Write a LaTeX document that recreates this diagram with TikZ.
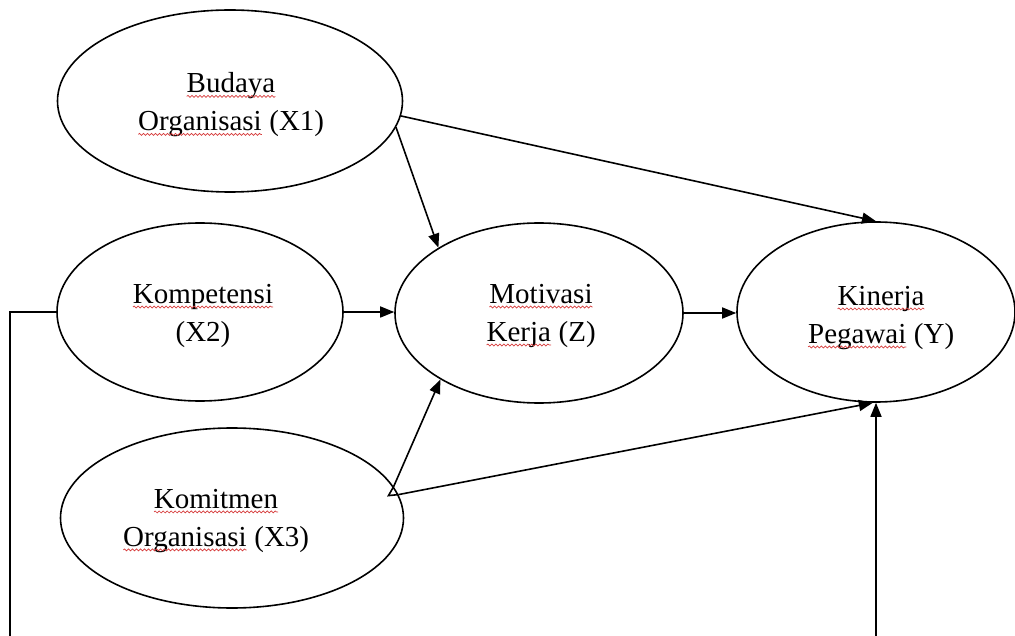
\documentclass[tikz,border=0pt]{standalone}
\usepackage{fontspec}
\setmainfont{Liberation Serif}
\usetikzlibrary{arrows.meta,calc,shapes.geometric,decorations.pathmorphing}
\definecolor{wavered}{RGB}{214,60,60}
\newcommand\wv[1]{\tikz[baseline=(w.base)]{\node[rectangle,draw=none,fill=none,inner sep=0pt,outer sep=0pt,minimum width=0pt,minimum height=0pt,align=none,anchor=base](w){#1};\draw[wavered,line width=0.7pt,decorate,decoration={snake,amplitude=1pt,segment length=4pt}]([yshift=-3.5pt]w.base west)--([yshift=-3.5pt]w.base east);}}
\tikzset{
  ell/.style={ellipse, draw, line width=1.6pt, inner sep=0pt},
  txt/.style={inner sep=0pt, align=center, font=\fontsize{29}{38}\selectfont},
  conn/.style={line width=1.6pt, -{Triangle[length=14pt,width=11pt]}},
  plain/.style={line width=1.6pt}
}
\begin{document}
\begin{tikzpicture}[x=1pt,y=-1pt]
\useasboundingbox (0,0) rectangle (1015,636);
\node[ell, minimum width=345pt, minimum height=182pt] (bud) at (230,101) {};
\node[ell, minimum width=286pt, minimum height=178pt] (komp) at (200,312) {};
\node[ell, minimum width=343pt, minimum height=180pt] (kom) at (232,518) {};
\node[ell, minimum width=288pt, minimum height=180pt] (mot) at (539,313) {};
\node[ell, minimum width=278pt, minimum height=180pt] (kin) at (876,312) {};
\node[txt] (budt) at (231,105) {\wv{Budaya}\\\wv{Organisasi} (X1)};
\node[txt] (kompt) at (203,316) {\wv{Kompetensi}\\(X2)};
\node[txt] (komt) at (216,521) {\wv{Komitmen}\\\wv{Organisasi} (X3)};
\node[txt] (mott) at (541,316) {\wv{Motivasi}\\\wv{Kerja} (Z)};
\node[txt] (kint) at (881,318) {\wv{Kinerja}\\\wv{Pegawai} (Y)};
% connectors
\draw[conn] (bud.-5) -- (kin.north);
\draw[conn] (bud.-9) -- (mot.147);
\draw[conn] (komp.east) -- (komp.east -| mot.west);
\draw[conn] (mot.east) -- (mot.east -| kin.west);
\coordinate (ja) at (kom.11);
\coordinate (jb) at (kom.8);
\coordinate (jc) at ($(jb)+(-10,1)$);
\draw[plain, line join=miter] (ja) -- (jc) -- (jb);
\draw[conn] (ja) -- (mot.214);
\draw[conn] (jb) -- (kin.-92);
\coordinate (lb) at (10,636);
\draw[plain] (komp.west) -| (lb);
\coordinate (kb) at (kin.south |- lb);
\draw[conn] (kb) -- (kin.south);
\end{tikzpicture}
\end{document}
